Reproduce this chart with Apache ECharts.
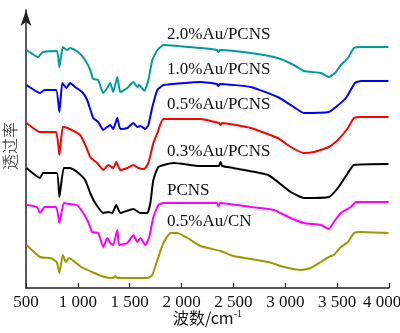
<!DOCTYPE html>
<html><head><meta charset="utf-8">
<script src="https://cdn.jsdelivr.net/npm/echarts@6/dist/echarts.min.js"></script>
<style>html,body{margin:0;padding:0;background:#fff}#c{width:400px;height:333px}</style>
</head><body><div id="c"></div>
<script>
const xTicks = [500,1000,1500,2000,2500,3000,3500,4000];
const seriesNames = ['2.0%Au/PCNS','1.0%Au/PCNS','0.5%Au/PCNS','0.3%Au/PCNS','PCNS','0.5%Au/CN'];

const tealX = [505,616,664,797,822,855,894,925,1003,1070,1119,1148,1196,1245,1283,1312,1341,1380,1409,1477,1535,1573,1593,1641,1680,1718,1767,1825,2182,2340,2355,2370,2666,2927,3082,3178,3343,3420,3488,3536,3604,3662,3729,3995];
const tealY = [238,231,236,237,221,241,238,240,236,228,218,209,208,195,200,205,196,211,196,200,206,201,203,197,208,228,238,243,240,238,236,238,235,230,223,217,215,211,216,223,230,240,241,241];

const blueX = [505,635,680,790,822,850,890,925,973,1041,1090,1148,1196,1245,1283,1312,1341,1380,1409,1477,1535,1573,1603,1651,1680,1718,1767,1825,2182,2340,2355,2370,2666,2927,3082,3178,3420,3488,3585,3672,3729,3995];
const blueY = [203,195,198,198,176,205,200,205,201,196,188,170,166,158,161,163,159,170,159,160,165,161,162,159,163,181,198,203,206,204,202,204,201,191,181,175,176,181,190,205,207,207];

const redX = [505,635,700,790,822,855,900,1022,1080,1119,1186,1245,1293,1341,1370,1409,1477,1535,1583,1641,1680,1728,1767,1825,2182,2360,2376,2390,2666,2927,3053,3178,3275,3420,3507,3604,3662,3729,3995];
const redY = [165,156,156,156,133,161,160,153,141,131,125,118,123,120,126,118,120,123,120,119,125,145,155,169,169,165,163,165,160,150,141,135,136,141,148,160,170,171,171];

const blackX = [505,635,664,797,822,865,925,993,1070,1119,1167,1245,1293,1331,1370,1409,1535,1603,1670,1699,1728,1777,1922,2182,2360,2376,2392,2499,2834,3053,3178,3420,3507,3604,3662,3995];
const blackY = [120,110,115,115,91,120,120,116,108,95,85,75,76,75,83,75,79,75,75,85,108,121,125,122,122,126,122,120,113,96,90,91,100,115,123,124];

const magentaX = [505,606,635,680,790,822,865,925,993,1051,1100,1138,1196,1245,1283,1312,1341,1380,1399,1477,1535,1573,1603,1651,1689,1728,1777,1825,2182,2340,2355,2370,2666,2889,3053,3178,3343,3420,3468,3536,3633,3681,3995];
const magentaY = [83,81,75,81,81,65,85,84,83,75,66,56,55,41,50,45,43,58,43,45,53,46,50,43,51,71,83,85,85,85,82,85,81,78,70,65,63,59,66,75,81,86,86];

const oliveX = [505,635,736,797,822,855,884,915,1032,1158,1254,1341,1360,1380,1535,1670,1718,1767,1825,1893,1960,2057,2182,2376,2499,2834,2989,3149,3246,3343,3420,3468,3536,3604,3662,3729,3995];
const oliveY = [43,31,30,26,15,33,26,30,21,15,11,10,12,10,10,10,13,28,45,55,55,50,42,37,32,26,21,18,20,26,31,33,41,46,55,56,55];

const colors = ['#009c9c','#0000ff','#ff0000','#000000','#ff00ff','#999900'];
const xs = [tealX, blueX, redX, blackX, magentaX, oliveX];
const ys = [tealY, blueY, redY, blackY, magentaY, oliveY];
const labelTops = [35, 70, 105, 152, 191, 222];

const zip = (a, b) => a.map((v, i) => [v, b[i]]);
const serif = '"Liberation Serif","Times New Roman",serif';
const fmtNum = v => String(v).replace(/\B(?=(\d{3})+(?!\d))/g, ' ');

const chart = echarts.init(document.getElementById('c'));
chart.setOption({
  animation: false,
  backgroundColor: '#fff',
  grid: {left: 26, right: 11, top: 10, bottom: 45, containLabel: false, outerBoundsMode: 'none'},
  xAxis: {
    type: 'value', min: 500, max: 4000, interval: 500,
    axisLine: {lineStyle: {color: '#222', width: 1.5}},
    axisTick: {inside: true, length: 5, lineStyle: {color: '#222', width: 1.2}},
    splitLine: {show: false},
    axisLabel: {
      color: '#111', fontFamily: serif, fontSize: 17, margin: 6, hideOverlap: false,
      formatter: v => {
        if (!xTicks.includes(v)) return '';
        return v === xTicks[xTicks.length - 1] ? '{last|' + fmtNum(v) + '}' : fmtNum(v);
      },
      rich: {last: {fontFamily: serif, fontSize: 17, color: '#111', padding: [0, 14, 0, 0]}}
    },
    name: '波数/cm{sup|-1}', nameLocation: 'middle', nameGap: 21, nameMoveOverlap: false,
    nameTextStyle: {
      color: '#111', fontFamily: '"Noto Sans CJK SC",' + serif, fontSize: 16,
      rich: {sup: {fontFamily: serif, fontSize: 10, verticalAlign: 'top', padding: [0,0,8,0], color: '#111'}}
    }
  },
  yAxis: {
    type: 'value', min: 0, max: 278,
    axisLine: {show: true, symbol: ['none', 'arrow'], symbolSize: [8, 16], lineStyle: {color: '#222', width: 1.5}},
    axisTick: {show: false}, axisLabel: {show: false}, splitLine: {show: false},
    name: '透过率', nameLocation: 'middle', nameGap: 8, nameMoveOverlap: false,
    nameTextStyle: {color: '#222', fontFamily: '"Noto Sans CJK SC",sans-serif', fontSize: 16, fontWeight: 300, padding: [0, 0, 0, 6]}
  },
  series: seriesNames.map((n, i) => ({
    name: n, type: 'line', data: zip(xs[i], ys[i]), showSymbol: false,
    lineStyle: {color: colors[i], width: 2}, smooth: 0.15
  })),
  graphic: seriesNames.map((n, i) => ({
    type: 'text', left: 167, top: labelTops[i] - 9,
    style: {text: n, font: '17px ' + serif, fill: '#111'}
  }))
});
</script></body></html>
